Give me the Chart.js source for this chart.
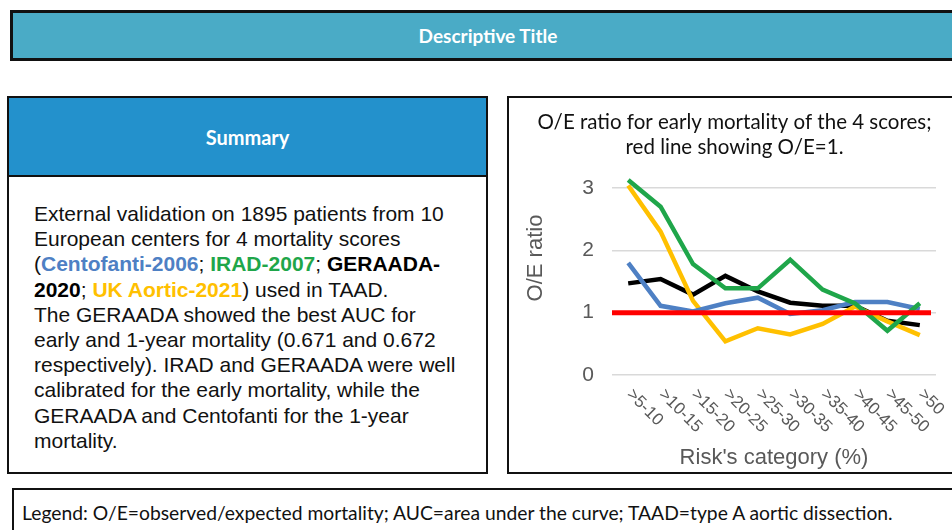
<!DOCTYPE html>
<html>
<head>
<meta charset="utf-8">
<script src="https://cdn.jsdelivr.net/npm/chart.js@4.4.1/dist/chart.umd.min.js"></script>
<style>
  body { margin: 0; width: 952px; height: 530px; overflow: hidden; background: #fff; position: relative; font-family: 'Liberation Sans', Arial, sans-serif; }
  .box { position: absolute; box-sizing: border-box; border: 2px solid #111; }
  #titleBar { left: 10px; top: 10px; width: 980px; height: 51px; background: #4aabc6; border-width: 3px; color: #fff; font: bold 19px Lato, sans-serif; text-align: center; line-height: 46px; padding-right: 24px; }
  #summary { left: 7px; top: 96px; width: 481px; height: 378px; background: #fff; }
  #summary .head { height: 77px; background: #2391cc; border-bottom: 2px solid #111; color: #fff; font: bold 20px Lato, sans-serif; text-align: center; line-height: 78px; }
  #summary .body { position: absolute; left: 25px; top: 103px; font-size: 21px; line-height: 25.2px; color: #111; white-space: nowrap; }
  #chartBox { left: 507px; top: 96px; width: 470px; height: 378px; background: #fff; }
  #chartWrap { position: absolute; left: 509px; top: 98px; width: 441px; height: 374px; }
  #legendBox { left: 12px; top: 488px; width: 980px; height: 60px; font: 19.3px Lato, sans-serif; color: #111; padding: 11px 0 0 8px; white-space: nowrap; }
  .c1 { color: #4e80c4; font-weight: bold; }
  .c2 { color: #1fa64a; font-weight: bold; }
  .c3 { color: #000; font-weight: bold; }
  .c4 { color: #ffc000; font-weight: bold; }
</style>
</head>
<body>
<div id="titleBar" class="box">Descriptive Title</div>

<div id="summary" class="box">
  <div class="head">Summary</div>
  <div class="body">
    External validation on 1895 patients from 10<br>
    European centers for 4 mortality scores<br>
    (<span class="c1">Centofanti-2006</span>; <span class="c2">IRAD-2007</span>; <span class="c3">GERAADA-</span><br>
    <span class="c3">2020</span>; <span class="c4">UK Aortic-2021</span>) used in TAAD.<br>
    The GERAADA showed the best AUC for<br>
    early and 1-year mortality (0.671 and 0.672<br>
    respectively). IRAD and GERAADA were well<br>
    calibrated for the early mortality, while the<br>
    GERAADA and Centofanti for the 1-year<br>
    mortality.
  </div>
</div>

<div id="chartBox" class="box"></div>
<div id="chartWrap"><canvas id="oeChart" width="441" height="374"></canvas></div>

<div id="legendBox" class="box">Legend: O/E=observed/expected mortality; AUC=area under the curve; TAAD=type A aortic dissection.</div>

<script>
// risk categories (%)
const categories = ['>5-10', '>10-15', '>15-20', '>20-25', '>25-30', '>30-35', '>35-40', '>40-45', '>45-50', '>50'];

// O/E ratio per score
const centofanti = [1.80, 1.11, 1.02, 1.15, 1.24, 0.98, 1.04, 1.17, 1.17, 1.06];
const irad = [3.13, 2.70, 1.78, 1.39, 1.39, 1.85, 1.37, 1.15, 0.71, 1.15];
const geraada = [1.47, 1.54, 1.29, 1.59, 1.34, 1.16, 1.11, 1.11, 0.87, 0.80];
const ukAortic = [3.04, 2.30, 1.19, 0.54, 0.75, 0.65, 0.82, 1.10, 0.86, 0.64];

// reference line O/E = 1
const refRatio = 1;
const yTicks = [0, 1, 2, 3];

const gray = '#595959';

// red O/E=1 line across the plot
const refLinePlugin = {
    id: 'refLine',
    afterDatasetsDraw(chart) {
        const { ctx, chartArea, scales } = chart;
        const y = scales.y.getPixelForValue(refRatio);
        ctx.save();
        ctx.strokeStyle = '#ff0000';
        ctx.lineWidth = 5;
        ctx.beginPath();
        ctx.moveTo(chartArea.left, y);
        ctx.lineTo(chartArea.right - 5, y);
        ctx.stroke();
        ctx.restore();
    }
};

// x labels rotated clockwise starting at the tick, plus the y title (sits a bit above centre in the original)
const axisTextPlugin = {
    id: 'axisText',
    afterDraw(chart) {
        const { ctx, chartArea, scales } = chart;
        ctx.save();
        ctx.fillStyle = gray;
        ctx.font = '17px "Liberation Sans", Arial, sans-serif';
        ctx.textAlign = 'left';
        ctx.textBaseline = 'middle';
        categories.forEach((label, i) => {
            const x = scales.x.getPixelForTick(i);
            ctx.save();
            ctx.translate(x + 1, chartArea.bottom + 17);
            ctx.rotate(Math.PI / 4);
            ctx.fillText(label, 0, 0);
            ctx.restore();
        });

        ctx.font = '22px "Liberation Sans", Arial, sans-serif';
        ctx.textAlign = 'center';
        ctx.translate(27, chartArea.top + 70);
        ctx.rotate(-Math.PI / 2);
        ctx.fillText('O/E ratio', 0, 0);
        ctx.restore();
    }
};

const lineStyle = { borderWidth: 4.5, pointRadius: 0, tension: 0, fill: false, clip: false };

new Chart(document.getElementById('oeChart'), {
    type: 'line',
    data: {
        labels: categories,
        datasets: [
            { label: 'IRAD-2007', data: irad, borderColor: '#1fa64a', ...lineStyle },
            { label: 'Centofanti-2006', data: centofanti, borderColor: '#4e80c4', ...lineStyle },
            { label: 'UK Aortic-2021', data: ukAortic, borderColor: '#ffc000', ...lineStyle },
            { label: 'GERAADA-2020', data: geraada, borderColor: '#000000', ...lineStyle }
        ]
    },
    options: {
        responsive: false,
        animation: false,
        layout: { padding: { left: 24, right: 14, top: 0, bottom: 0 } },
        plugins: {
            legend: { display: false },
            tooltip: { enabled: false },
            title: {
                display: true,
                text: ['O/E ratio for early mortality of the 4 scores;', 'red line showing O/E=1.'],
                color: '#111',
                font: { family: 'Lato', size: 20.5, weight: 'normal', lineHeight: 1.22 },
                padding: { top: 12, bottom: 28 }
            }
        },
        scales: {
            x: {
                offset: true,
                grid: { display: false },
                border: { display: false },
                ticks: { display: false },
                title: {
                    display: true,
                    text: "Risk's category (%)",
                    color: gray,
                    font: { family: 'Liberation Sans', size: 22, lineHeight: 1.2 },
                    padding: { top: 0, bottom: 1 }
                },
                afterFit(scale) { scale.height = 97; }
            },
            y: {
                min: 0,
                max: 3,
                afterBuildTicks(scale) { scale.ticks = yTicks.map(v => ({ value: v })); },
                grid: { color: '#d9d9d9', lineWidth: 1.5, drawTicks: false },
                border: { display: false },
                ticks: {
                    color: gray,
                    padding: 18,
                    font: { family: 'Liberation Sans', size: 21 }
                },
                afterFit(scale) { scale.width = 79; }
            }
        }
    },
    plugins: [refLinePlugin, axisTextPlugin]
});
</script>
</body>
</html>
